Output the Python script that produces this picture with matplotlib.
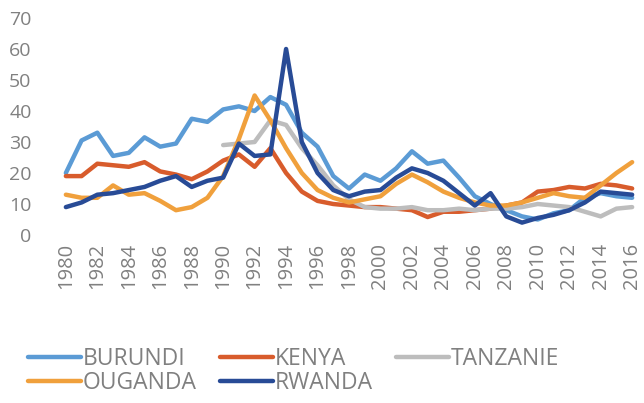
"""Inflation-style line chart for five East African countries, 1980-2016."""

from __future__ import annotations

import matplotlib

matplotlib.use("Agg")
import matplotlib.pyplot as plt
import numpy as np
from matplotlib import font_manager


YEARS = list(range(1980, 2017))

BURUNDI = [20, 30.5, 33, 25.5, 26.5, 31.5, 28.5, 29.5, 37.5, 36.5,
           40.5, 41.5, 40, 44.5, 42, 33, 28.5, 19, 15, 19.5,
           17.5, 21.5, 27, 23, 24, 18.5, 12.5, 10, 8, 6,
           5, 7, 8, 12, 13.5, 12.5, 12]
KENYA = [19, 19, 23, 22.5, 22, 23.5, 20.5, 19.5, 18, 20.5,
         24, 26, 22, 28, 20, 14, 11, 10, 9.5, 9,
         9, 8.5, 8, 5.8, 7.5, 7.5, 8, 8.5, 9.5, 10.5,
         14, 14.5, 15.5, 15, 16.5, 16, 15]
TANZANIE = [None] * 10 + [
    29, 29.5, 30, 37, 35.5, 28, 22.5, 16, 11.5, 9,
    8.5, 8.5, 9, 8, 8, 8.5, 8, 8.5, 8.5, 9,
    10, 9.5, 9, 7.5, 6, 8.5, 9]
OUGANDA = [13, 12, 12, 16, 13, 13.5, 11, 8, 9, 12,
           19, 31, 45, 37, 28, 20, 14.5, 12, 10.5, 11.5,
           12.5, 16.5, 19.5, 17, 14, 12, 10.5, 9.5, 9.5, 10.5,
           12, 13.5, 12.5, 12, 16, 20, 23.5]
RWANDA = [9, 10.5, 13, 13.5, 14.5, 15.5, 17.5, 19, 15.5, 17.5,
          18.5, 29.5, 25.5, 26, 60, 30, 20, 14.5, 12.5, 14,
          14.5, 18.5, 21.5, 20, 17.5, 13.5, 9.5, 13.5, 6, 4,
          5.5, 6.5, 8, 10.5, 14, 13.5, 13]

SERIES = [
    ("BURUNDI", BURUNDI, "#5B9BD5"),
    ("KENYA", KENYA, "#D85C2C"),
    ("TANZANIE", TANZANIE, "#BDBDBD"),
    ("OUGANDA", OUGANDA, "#F0A03C"),
    ("RWANDA", RWANDA, "#284B96"),
]

TEXT_COLOR = "#808080"


def pick_font() -> list[str]:
    names = {f.name for f in font_manager.fontManager.ttflist}
    for name in ["Liberation Sans Narrow", "Open Sans", "Lato"]:
        if name in names:
            return [name, "DejaVu Sans"]
    return ["DejaVu Sans"]


def main() -> None:
    plt.rcParams["font.family"] = pick_font()

    fig = plt.figure(figsize=(6.44, 4.03), dpi=100)
    ax = fig.add_axes([58 / 644, 1 - 235 / 403, 582 / 644, 217 / 403])

    lines = {}
    for name, values, color in SERIES:
        y = np.array([np.nan if v is None else v for v in values], dtype=float)
        (line,) = ax.plot(YEARS, y, color=color, linewidth=3.2,
                          solid_capstyle="round", solid_joinstyle="round", label=name)
        lines[name] = line

    ax.set_xlim(1979.5, 2016.5)
    ax.set_ylim(0, 70)
    ax.set_yticks(range(0, 71, 10))
    ax.set_xticks(YEARS[::2])
    ax.set_xticklabels([str(y) for y in YEARS[::2]], rotation=90)

    for spine in ax.spines.values():
        spine.set_visible(False)
    ax.tick_params(axis="y", length=0, pad=19, labelsize=14, labelcolor=TEXT_COLOR)
    ax.tick_params(axis="x", length=0, pad=6, labelsize=14.5, labelcolor=TEXT_COLOR)

    # column-major order so the legend reads row by row
    order = ["BURUNDI", "OUGANDA", "KENYA", "RWANDA", "TANZANIE"]
    leg = fig.legend(
        [lines[n] for n in order], order,
        ncol=3, loc="upper left", bbox_to_anchor=(12 / 644, 1 - 331 / 403),
        frameon=False, fontsize=16.5, handlelength=2.3, handletextpad=0.1,
        columnspacing=1.0, labelspacing=0.0, borderpad=0.2,
    )
    for text in leg.get_texts():
        text.set_color(TEXT_COLOR)

    fig.savefig("out.png", dpi=100)
    plt.close(fig)


if __name__ == "__main__":
    main()
